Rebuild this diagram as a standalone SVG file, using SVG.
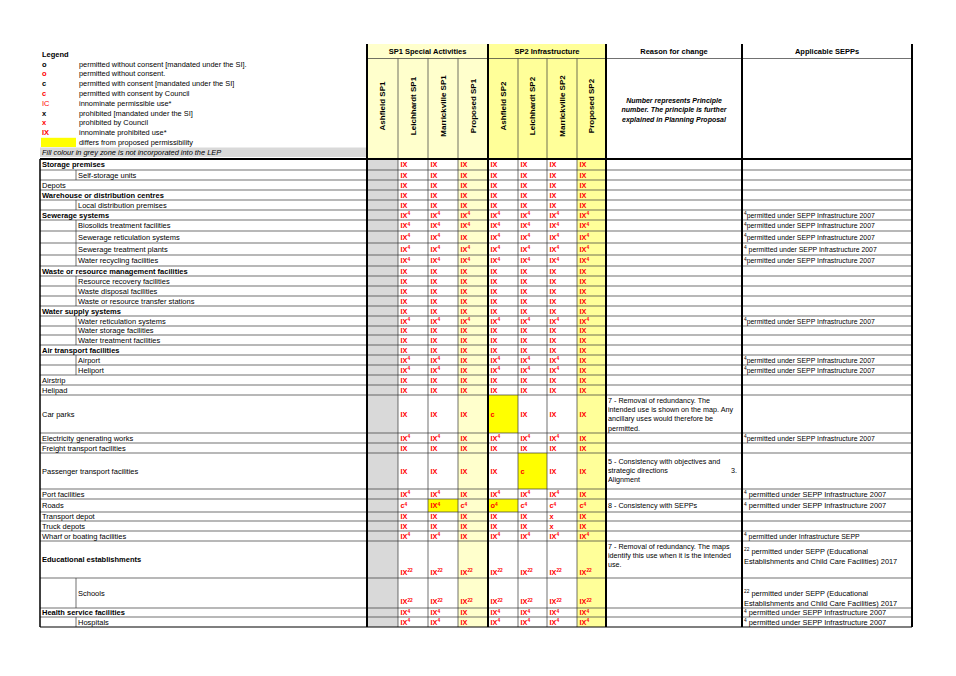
<svg xmlns="http://www.w3.org/2000/svg" width="956" height="676" viewBox="0 0 956 676">
<style>
text{font-family:"Liberation Sans",Arial,sans-serif;font-size:7.5px;fill:#000}
.b{font-weight:bold}
.hd{font-weight:bold;font-size:7.5px}
.rot{font-weight:bold;font-size:8px}
.bi{font-weight:bold;font-style:italic;font-size:7px}
.it{font-style:italic}
.lg{font-size:7.4px}
.rs{font-size:7.2px}
.d{font-size:7.3px;fill:#f00;font-weight:bold}
.u{font-size:4.8px}
.cal{font-size:6.9px}
.ar{font-size:7.4px}
.sym{font-weight:bold;font-size:7.5px}
.red{fill:#f00}
.thin{stroke:#333;stroke-width:0.7}
.thk{stroke:#000;stroke-width:2}
</style>
<rect x="0" y="0" width="956" height="676" fill="#fff"/>

<g id="fills">
<rect x="367" y="44" width="121" height="115" fill="#ffffcc"/>
<rect x="488" y="44" width="118" height="115" fill="#ffff99"/>
<rect x="367" y="159" width="31" height="468" fill="#d9d9d9"/>
<rect x="458" y="159" width="30" height="468" fill="#ffffcc"/>
<rect x="577" y="159" width="29" height="468" fill="#ffff99"/>
<rect x="488" y="395" width="30" height="38" fill="#ffff00"/>
<rect x="518" y="453" width="29" height="36" fill="#ffff00"/>
<rect x="428" y="499" width="30" height="13" fill="#ffff00"/>
<rect x="488" y="499" width="30" height="13" fill="#ffff00"/>
<rect x="40" y="147.5" width="327" height="9.5" fill="#d9d9d9"/>
<rect x="41" y="137.8" width="35" height="9.2" fill="#ffff00"/>
</g>

<g id="connectors">
<g class="thin">
<line x1="40" y1="170" x2="912" y2="170"/><line x1="40" y1="180" x2="912" y2="180"/><line x1="40" y1="190" x2="912" y2="190"/><line x1="40" y1="200" x2="912" y2="200"/><line x1="40" y1="210" x2="912" y2="210"/><line x1="40" y1="220" x2="912" y2="220"/><line x1="40" y1="231" x2="912" y2="231"/><line x1="40" y1="243" x2="912" y2="243"/><line x1="40" y1="255" x2="912" y2="255"/><line x1="40" y1="266" x2="912" y2="266"/><line x1="40" y1="276" x2="912" y2="276"/><line x1="40" y1="286" x2="912" y2="286"/><line x1="40" y1="296" x2="912" y2="296"/><line x1="40" y1="306" x2="912" y2="306"/><line x1="40" y1="316" x2="912" y2="316"/><line x1="40" y1="326" x2="912" y2="326"/><line x1="40" y1="335" x2="912" y2="335"/><line x1="40" y1="345" x2="912" y2="345"/><line x1="40" y1="355" x2="912" y2="355"/><line x1="40" y1="365" x2="912" y2="365"/><line x1="40" y1="375" x2="912" y2="375"/><line x1="40" y1="385" x2="912" y2="385"/><line x1="40" y1="395" x2="912" y2="395"/><line x1="40" y1="433" x2="912" y2="433"/><line x1="40" y1="443" x2="912" y2="443"/><line x1="40" y1="453" x2="912" y2="453"/><line x1="40" y1="489" x2="912" y2="489"/><line x1="40" y1="499" x2="912" y2="499"/><line x1="40" y1="512" x2="912" y2="512"/><line x1="40" y1="521" x2="912" y2="521"/><line x1="40" y1="531" x2="912" y2="531"/><line x1="40" y1="541" x2="912" y2="541"/><line x1="40" y1="578" x2="912" y2="578"/><line x1="40" y1="608" x2="912" y2="608"/><line x1="40" y1="617" x2="912" y2="617"/>
<line x1="367" y1="58.5" x2="912" y2="58.5"/>
<line x1="398" y1="58.5" x2="398" y2="627"/><line x1="428" y1="58.5" x2="428" y2="627"/><line x1="458" y1="58.5" x2="458" y2="627"/><line x1="518" y1="58.5" x2="518" y2="627"/><line x1="547" y1="58.5" x2="547" y2="627"/><line x1="577" y1="58.5" x2="577" y2="627"/>
<line x1="76" y1="170" x2="76" y2="180"/><line x1="76" y1="200" x2="76" y2="210"/><line x1="76" y1="220" x2="76" y2="266"/><line x1="76" y1="276" x2="76" y2="306"/><line x1="76" y1="316" x2="76" y2="345"/><line x1="76" y1="355" x2="76" y2="375"/><line x1="76" y1="578" x2="76" y2="608"/><line x1="76" y1="617" x2="76" y2="627"/>
</g>
<line x1="40" y1="627" x2="912" y2="627" stroke="#000" stroke-width="1.2"/>
<line x1="40" y1="159" x2="912" y2="159" class="thk"/>
<line x1="40" y1="159" x2="40" y2="627" stroke="#000" stroke-width="1.5"/>
<line x1="367" y1="44" x2="367" y2="627" class="thk"/>
<line x1="488" y1="44" x2="488" y2="627" class="thk"/>
<line x1="606" y1="44" x2="606" y2="627" class="thk"/>
<line x1="742" y1="44" x2="742" y2="627" class="thk"/>
<line x1="912" y1="44" x2="912" y2="627" class="thk"/>
</g>

<g id="legend">
<text x="42" y="56.6" class="hd">Legend</text>
<text x="42" y="66.6" class="sym">o</text><text x="79" y="66.6" class="lg">permitted without consent [mandated under the SI].</text>
<text x="42" y="76.4" class="sym red">o</text><text x="79" y="76.4" class="lg">permitted without consent.</text>
<text x="42" y="86.2" class="sym">c</text><text x="79" y="86.2" class="lg">permitted with consent [mandated under the SI]</text>
<text x="42" y="96" class="sym red">c</text><text x="79" y="96" class="lg">permitted with consent by Council</text>
<text x="42" y="105.8" class="sym red" style="font-weight:normal">IC</text><text x="79" y="105.8" class="lg">innominate permissible use*</text>
<text x="42" y="115.6" class="sym">x</text><text x="79" y="115.6" class="lg">prohibited [mandated under the SI]</text>
<text x="42" y="125.4" class="sym red">x</text><text x="79" y="125.4" class="lg">prohibited by Council</text>
<text x="42" y="135.2" class="sym red">IX</text><text x="79" y="135.2" class="lg">innominate prohibited use*</text>
<text x="79" y="145" class="lg">differs from proposed permissibility</text>
<text x="42" y="154.8" class="it lg">Fill colour in grey  zone is not incorporated into the LEP</text>
</g>

<g id="header">
<text x="427.5" y="53.7" class="hd" text-anchor="middle">SP1 Special Activities</text>
<text x="547" y="53.7" class="hd" text-anchor="middle">SP2 Infrastructure</text>
<text x="674" y="53.7" class="hd" text-anchor="middle">Reason for change</text>
<text x="827" y="53.7" class="hd" text-anchor="middle">Applicable SEPPs</text>
<text class="rot" text-anchor="middle" transform="translate(385.4,106) rotate(-90)">Ashfield SP1</text>
<text class="rot" text-anchor="middle" transform="translate(415.9,106) rotate(-90)">Leichhardt SP1</text>
<text class="rot" text-anchor="middle" transform="translate(445.9,106) rotate(-90)">Marrickville SP1</text>
<text class="rot" text-anchor="middle" transform="translate(475.9,106) rotate(-90)">Proposed SP1</text>
<text class="rot" text-anchor="middle" transform="translate(505.9,106) rotate(-90)">Ashfield SP2</text>
<text class="rot" text-anchor="middle" transform="translate(535.4,106) rotate(-90)">Leichhardt SP2</text>
<text class="rot" text-anchor="middle" transform="translate(564.9,106) rotate(-90)">Marrickville SP2</text>
<text class="rot" text-anchor="middle" transform="translate(594.4,106) rotate(-90)">Proposed SP2</text>
<text class="bi" x="674" y="102.5" text-anchor="middle">Number represents Principle</text>
<text class="bi" x="674" y="112" text-anchor="middle">number. The principle is further</text>
<text class="bi" x="674" y="121.5" text-anchor="middle">explained in Planning Proposal</text>
</g>

<g id="r01"><text x="42" y="167.1" class="b">Storage premises</text>
<text class="d" y="167.4"><tspan x="400.5">IX</tspan><tspan x="430.5">IX</tspan><tspan x="460.5">IX</tspan><tspan x="490.5">IX</tspan><tspan x="520.5">IX</tspan><tspan x="549.5">IX</tspan><tspan x="579.5">IX</tspan></text></g>
<g id="r02"><text x="78" y="177.6">Self-storage units</text>
<text class="d" y="177.9"><tspan x="400.5">IX</tspan><tspan x="430.5">IX</tspan><tspan x="460.5">IX</tspan><tspan x="490.5">IX</tspan><tspan x="520.5">IX</tspan><tspan x="549.5">IX</tspan><tspan x="579.5">IX</tspan></text></g>
<g id="r03"><text x="42" y="187.6">Depots</text>
<text class="d" y="187.9"><tspan x="400.5">IX</tspan><tspan x="430.5">IX</tspan><tspan x="460.5">IX</tspan><tspan x="490.5">IX</tspan><tspan x="520.5">IX</tspan><tspan x="549.5">IX</tspan><tspan x="579.5">IX</tspan></text></g>
<g id="r04"><text x="42" y="197.6" class="b">Warehouse or distribution centres</text>
<text class="d" y="197.9"><tspan x="400.5">IX</tspan><tspan x="430.5">IX</tspan><tspan x="460.5">IX</tspan><tspan x="490.5">IX</tspan><tspan x="520.5">IX</tspan><tspan x="549.5">IX</tspan><tspan x="579.5">IX</tspan></text></g>
<g id="r05"><text x="78" y="207.6">Local distribution premises</text>
<text class="d" y="207.9"><tspan x="400.5">IX</tspan><tspan x="430.5">IX</tspan><tspan x="460.5">IX</tspan><tspan x="490.5">IX</tspan><tspan x="520.5">IX</tspan><tspan x="549.5">IX</tspan><tspan x="579.5">IX</tspan></text></g>
<g id="r06"><text x="42" y="217.6" class="b">Sewerage systems</text>
<text class="d" y="217.9"><tspan x="400.5">IX</tspan><tspan class="u" dy="-2.8">4</tspan><tspan x="430.5" dy="2.8">IX</tspan><tspan class="u" dy="-2.8">4</tspan><tspan x="460.5" dy="2.8">IX</tspan><tspan class="u" dy="-2.8">4</tspan><tspan x="490.5" dy="2.8">IX</tspan><tspan class="u" dy="-2.8">4</tspan><tspan x="520.5" dy="2.8">IX</tspan><tspan class="u" dy="-2.8">4</tspan><tspan x="549.5" dy="2.8">IX</tspan><tspan class="u" dy="-2.8">4</tspan><tspan x="579.5" dy="2.8">IX</tspan><tspan class="u" dy="-2.8">4</tspan></text>
<text class="cal" x="744" y="217.6"><tspan class="u" dy="-2.4">4</tspan><tspan dy="2.4">permitted under  SEPP Infrastructure 2007</tspan></text></g>
<g id="r07"><text x="78" y="228.1">Biosolids treatment facilities</text>
<text class="d" y="228.4"><tspan x="400.5">IX</tspan><tspan class="u" dy="-2.8">4</tspan><tspan x="430.5" dy="2.8">IX</tspan><tspan class="u" dy="-2.8">4</tspan><tspan x="460.5" dy="2.8">IX</tspan><tspan class="u" dy="-2.8">4</tspan><tspan x="490.5" dy="2.8">IX</tspan><tspan class="u" dy="-2.8">4</tspan><tspan x="520.5" dy="2.8">IX</tspan><tspan class="u" dy="-2.8">4</tspan><tspan x="549.5" dy="2.8">IX</tspan><tspan class="u" dy="-2.8">4</tspan><tspan x="579.5" dy="2.8">IX</tspan><tspan class="u" dy="-2.8">4</tspan></text>
<text class="cal" x="744" y="228.1"><tspan class="u" dy="-2.4">4</tspan><tspan dy="2.4">permitted under  SEPP Infrastructure 2007</tspan></text></g>
<g id="r08"><text x="78" y="239.6">Sewerage reticulation systems</text>
<text class="d" y="239.9"><tspan x="400.5">IX</tspan><tspan class="u" dy="-2.8">4</tspan><tspan x="430.5" dy="2.8">IX</tspan><tspan class="u" dy="-2.8">4</tspan><tspan x="460.5" dy="2.8">IX</tspan><tspan x="490.5">IX</tspan><tspan class="u" dy="-2.8">4</tspan><tspan x="520.5" dy="2.8">IX</tspan><tspan class="u" dy="-2.8">4</tspan><tspan x="549.5" dy="2.8">IX</tspan><tspan class="u" dy="-2.8">4</tspan><tspan x="579.5" dy="2.8">IX</tspan><tspan class="u" dy="-2.8">4</tspan></text>
<text class="cal" x="744" y="239.6"><tspan class="u" dy="-2.4">4</tspan><tspan dy="2.4">permitted under  SEPP Infrastructure 2007</tspan></text></g>
<g id="r09"><text x="78" y="251.6">Sewerage treatment plants</text>
<text class="d" y="251.9"><tspan x="400.5">IX</tspan><tspan class="u" dy="-2.8">4</tspan><tspan x="430.5" dy="2.8">IX</tspan><tspan class="u" dy="-2.8">4</tspan><tspan x="460.5" dy="2.8">IX</tspan><tspan class="u" dy="-2.8">4</tspan><tspan x="490.5" dy="2.8">IX</tspan><tspan class="u" dy="-2.8">4</tspan><tspan x="520.5" dy="2.8">IX</tspan><tspan class="u" dy="-2.8">4</tspan><tspan x="549.5" dy="2.8">IX</tspan><tspan class="u" dy="-2.8">4</tspan><tspan x="579.5" dy="2.8">IX</tspan><tspan class="u" dy="-2.8">4</tspan></text>
<text class="cal" x="744" y="251.6"><tspan class="u" dy="-2.4">4</tspan><tspan dy="2.4"> permitted under  SEPP Infrastructure 2007</tspan></text></g>
<g id="r10"><text x="78" y="263.1">Water recycling facilities</text>
<text class="d" y="263.4"><tspan x="400.5">IX</tspan><tspan class="u" dy="-2.8">4</tspan><tspan x="430.5" dy="2.8">IX</tspan><tspan class="u" dy="-2.8">4</tspan><tspan x="460.5" dy="2.8">IX</tspan><tspan class="u" dy="-2.8">4</tspan><tspan x="490.5" dy="2.8">IX</tspan><tspan class="u" dy="-2.8">4</tspan><tspan x="520.5" dy="2.8">IX</tspan><tspan class="u" dy="-2.8">4</tspan><tspan x="549.5" dy="2.8">IX</tspan><tspan class="u" dy="-2.8">4</tspan><tspan x="579.5" dy="2.8">IX</tspan><tspan class="u" dy="-2.8">4</tspan></text>
<text class="cal" x="744" y="263.1"><tspan class="u" dy="-2.4">4</tspan><tspan dy="2.4">permitted under  SEPP Infrastructure 2007</tspan></text></g>
<g id="r11"><text x="42" y="273.6" class="b">Waste or resource management facilities</text>
<text class="d" y="273.9"><tspan x="400.5">IX</tspan><tspan x="430.5">IX</tspan><tspan x="460.5">IX</tspan><tspan x="490.5">IX</tspan><tspan x="520.5">IX</tspan><tspan x="549.5">IX</tspan><tspan x="579.5">IX</tspan></text></g>
<g id="r12"><text x="78" y="283.6">Resource recovery facilities</text>
<text class="d" y="283.9"><tspan x="400.5">IX</tspan><tspan x="430.5">IX</tspan><tspan x="460.5">IX</tspan><tspan x="490.5">IX</tspan><tspan x="520.5">IX</tspan><tspan x="549.5">IX</tspan><tspan x="579.5">IX</tspan></text></g>
<g id="r13"><text x="78" y="293.6">Waste disposal facilities</text>
<text class="d" y="293.9"><tspan x="400.5">IX</tspan><tspan x="430.5">IX</tspan><tspan x="460.5">IX</tspan><tspan x="490.5">IX</tspan><tspan x="520.5">IX</tspan><tspan x="549.5">IX</tspan><tspan x="579.5">IX</tspan></text></g>
<g id="r14"><text x="78" y="303.6">Waste or resource transfer stations</text>
<text class="d" y="303.9"><tspan x="400.5">IX</tspan><tspan x="430.5">IX</tspan><tspan x="460.5">IX</tspan><tspan x="490.5">IX</tspan><tspan x="520.5">IX</tspan><tspan x="549.5">IX</tspan><tspan x="579.5">IX</tspan></text></g>
<g id="r15"><text x="42" y="313.6" class="b">Water supply systems</text>
<text class="d" y="313.9"><tspan x="400.5">IX</tspan><tspan x="430.5">IX</tspan><tspan x="460.5">IX</tspan><tspan x="490.5">IX</tspan><tspan x="520.5">IX</tspan><tspan x="549.5">IX</tspan><tspan x="579.5">IX</tspan></text></g>
<g id="r16"><text x="78" y="323.6">Water reticulation systems</text>
<text class="d" y="323.9"><tspan x="400.5">IX</tspan><tspan class="u" dy="-2.8">4</tspan><tspan x="430.5" dy="2.8">IX</tspan><tspan class="u" dy="-2.8">4</tspan><tspan x="460.5" dy="2.8">IX</tspan><tspan class="u" dy="-2.8">4</tspan><tspan x="490.5" dy="2.8">IX</tspan><tspan class="u" dy="-2.8">4</tspan><tspan x="520.5" dy="2.8">IX</tspan><tspan class="u" dy="-2.8">4</tspan><tspan x="549.5" dy="2.8">IX</tspan><tspan class="u" dy="-2.8">4</tspan><tspan x="579.5" dy="2.8">IX</tspan><tspan class="u" dy="-2.8">4</tspan></text>
<text class="cal" x="744" y="323.6"><tspan class="u" dy="-2.4">4</tspan><tspan dy="2.4">permitted under  SEPP Infrastructure 2007</tspan></text></g>
<g id="r17"><text x="78" y="333.1">Water storage facilities</text>
<text class="d" y="333.4"><tspan x="400.5">IX</tspan><tspan x="430.5">IX</tspan><tspan x="460.5">IX</tspan><tspan x="490.5">IX</tspan><tspan x="520.5">IX</tspan><tspan x="549.5">IX</tspan><tspan x="579.5">IX</tspan></text></g>
<g id="r18"><text x="78" y="342.6">Water treatment facilities</text>
<text class="d" y="342.9"><tspan x="400.5">IX</tspan><tspan x="430.5">IX</tspan><tspan x="460.5">IX</tspan><tspan x="490.5">IX</tspan><tspan x="520.5">IX</tspan><tspan x="549.5">IX</tspan><tspan x="579.5">IX</tspan></text></g>
<g id="r19"><text x="42" y="352.6" class="b">Air transport facilities</text>
<text class="d" y="352.9"><tspan x="400.5">IX</tspan><tspan x="430.5">IX</tspan><tspan x="460.5">IX</tspan><tspan x="490.5">IX</tspan><tspan x="520.5">IX</tspan><tspan x="549.5">IX</tspan><tspan x="579.5">IX</tspan></text></g>
<g id="r20"><text x="78" y="362.6">Airport</text>
<text class="d" y="362.9"><tspan x="400.5">IX</tspan><tspan class="u" dy="-2.8">4</tspan><tspan x="430.5" dy="2.8">IX</tspan><tspan class="u" dy="-2.8">4</tspan><tspan x="460.5" dy="2.8">IX</tspan><tspan x="490.5">IX</tspan><tspan class="u" dy="-2.8">4</tspan><tspan x="520.5" dy="2.8">IX</tspan><tspan class="u" dy="-2.8">4</tspan><tspan x="549.5" dy="2.8">IX</tspan><tspan class="u" dy="-2.8">4</tspan><tspan x="579.5" dy="2.8">IX</tspan></text>
<text class="cal" x="744" y="362.6"><tspan class="u" dy="-2.4">4</tspan><tspan dy="2.4">permitted under  SEPP Infrastructure 2007</tspan></text></g>
<g id="r21"><text x="78" y="372.6">Heliport</text>
<text class="d" y="372.9"><tspan x="400.5">IX</tspan><tspan class="u" dy="-2.8">4</tspan><tspan x="430.5" dy="2.8">IX</tspan><tspan class="u" dy="-2.8">4</tspan><tspan x="460.5" dy="2.8">IX</tspan><tspan x="490.5">IX</tspan><tspan class="u" dy="-2.8">4</tspan><tspan x="520.5" dy="2.8">IX</tspan><tspan class="u" dy="-2.8">4</tspan><tspan x="549.5" dy="2.8">IX</tspan><tspan class="u" dy="-2.8">4</tspan><tspan x="579.5" dy="2.8">IX</tspan></text>
<text class="cal" x="744" y="372.6"><tspan class="u" dy="-2.4">4</tspan><tspan dy="2.4">permitted under  SEPP Infrastructure 2007</tspan></text></g>
<g id="r22"><text x="42" y="382.6">Airstrip</text>
<text class="d" y="382.9"><tspan x="400.5">IX</tspan><tspan x="430.5">IX</tspan><tspan x="460.5">IX</tspan><tspan x="490.5">IX</tspan><tspan x="520.5">IX</tspan><tspan x="549.5">IX</tspan><tspan x="579.5">IX</tspan></text></g>
<g id="r23"><text x="42" y="392.6">Helipad</text>
<text class="d" y="392.9"><tspan x="400.5">IX</tspan><tspan x="430.5">IX</tspan><tspan x="460.5">IX</tspan><tspan x="490.5">IX</tspan><tspan x="520.5">IX</tspan><tspan x="549.5">IX</tspan><tspan x="579.5">IX</tspan></text></g>
<g id="r24"><text x="42" y="416.6">Car parks</text>
<text class="d" y="416.9"><tspan x="400.5">IX</tspan><tspan x="430.5">IX</tspan><tspan x="460.5">IX</tspan><tspan x="490.5">c</tspan><tspan x="520.5">IX</tspan><tspan x="549.5">IX</tspan><tspan x="579.5">IX</tspan></text>
<text class="rs" x="608" y="402.6">7 - Removal of redundancy. The</text>
<text class="rs" x="608" y="412">intended use is shown on the map. Any</text>
<text class="rs" x="608" y="421.4">ancillary uses would therefore be</text>
<text class="rs" x="608" y="430.8">permitted.</text></g>
<g id="r25"><text x="42" y="440.6">Electricity generating works</text>
<text class="d" y="440.9"><tspan x="400.5">IX</tspan><tspan class="u" dy="-2.8">4</tspan><tspan x="430.5" dy="2.8">IX</tspan><tspan class="u" dy="-2.8">4</tspan><tspan x="460.5" dy="2.8">IX</tspan><tspan x="490.5">IX</tspan><tspan class="u" dy="-2.8">4</tspan><tspan x="520.5" dy="2.8">IX</tspan><tspan class="u" dy="-2.8">4</tspan><tspan x="549.5" dy="2.8">IX</tspan><tspan class="u" dy="-2.8">4</tspan><tspan x="579.5" dy="2.8">IX</tspan></text>
<text class="cal" x="744" y="440.6"><tspan class="u" dy="-2.4">4</tspan><tspan dy="2.4">permitted under  SEPP Infrastructure 2007</tspan></text></g>
<g id="r26"><text x="42" y="450.6">Freight transport facilities</text>
<text class="d" y="450.9"><tspan x="400.5">IX</tspan><tspan x="430.5">IX</tspan><tspan x="460.5">IX</tspan><tspan x="490.5">IX</tspan><tspan x="520.5">IX</tspan><tspan x="549.5">IX</tspan><tspan x="579.5">IX</tspan></text></g>
<g id="r27"><text x="42" y="473.6">Passenger transport facilities</text>
<text class="d" y="473.9"><tspan x="400.5">IX</tspan><tspan x="430.5">IX</tspan><tspan x="460.5">IX</tspan><tspan x="490.5">IX</tspan><tspan x="520.5">c</tspan><tspan x="549.5">IX</tspan><tspan x="579.5">IX</tspan></text>
<text class="rs" x="608" y="463.6">5 - Consistency with objectives and</text>
<text class="rs" x="608" y="472.6">strategic directions</text><text class="rs" x="737" y="472.6" text-anchor="end">3.</text>
<text class="rs" x="608" y="481.6">Alignment</text></g>
<g id="r28"><text x="42" y="496.6">Port facilities</text>
<text class="d" y="496.9"><tspan x="400.5">IX</tspan><tspan class="u" dy="-2.8">4</tspan><tspan x="430.5" dy="2.8">IX</tspan><tspan class="u" dy="-2.8">4</tspan><tspan x="460.5" dy="2.8">IX</tspan><tspan x="490.5">IX</tspan><tspan class="u" dy="-2.8">4</tspan><tspan x="520.5" dy="2.8">IX</tspan><tspan class="u" dy="-2.8">4</tspan><tspan x="549.5" dy="2.8">IX</tspan><tspan class="u" dy="-2.8">4</tspan><tspan x="579.5" dy="2.8">IX</tspan></text>
<text class="ar" x="744" y="496.6"><tspan class="u" dy="-2.6">4</tspan><tspan dy="2.6"> permitted under SEPP Infrastructure 2007</tspan></text></g>
<g id="r29"><text x="42" y="508.1">Roads</text>
<text class="d" y="508.4"><tspan x="400.5">c</tspan><tspan class="u" dy="-2.8">4</tspan><tspan x="430.5" dy="2.8">IX</tspan><tspan class="u" dy="-2.8">4</tspan><tspan x="460.5" dy="2.8">c</tspan><tspan class="u" dy="-2.8">4</tspan><tspan x="490.5" dy="2.8">o</tspan><tspan class="u" dy="-2.8">4</tspan><tspan x="520.5" dy="2.8">c</tspan><tspan class="u" dy="-2.8">4</tspan><tspan x="549.5" dy="2.8">c</tspan><tspan class="u" dy="-2.8">4</tspan><tspan x="579.5" dy="2.8">c</tspan><tspan class="u" dy="-2.8">4</tspan></text>
<text class="rs" x="608" y="508.1">8 - Consistency with SEPPs</text>
<text class="ar" x="744" y="508.1"><tspan class="u" dy="-2.6">4</tspan><tspan dy="2.6"> permitted under SEPP Infrastructure 2007</tspan></text></g>
<g id="r30"><text x="42" y="519.1">Transport depot</text>
<text class="d" y="519.4"><tspan x="400.5">IX</tspan><tspan x="430.5">IX</tspan><tspan x="460.5">IX</tspan><tspan x="490.5">IX</tspan><tspan x="520.5">IX</tspan><tspan x="549.5">x</tspan><tspan x="579.5">IX</tspan></text></g>
<g id="r31"><text x="42" y="528.6">Truck depots</text>
<text class="d" y="528.9"><tspan x="400.5">IX</tspan><tspan x="430.5">IX</tspan><tspan x="460.5">IX</tspan><tspan x="490.5">IX</tspan><tspan x="520.5">IX</tspan><tspan x="549.5">x</tspan><tspan x="579.5">IX</tspan></text></g>
<g id="r32"><text x="42" y="538.6">Wharf or boating facilities</text>
<text class="d" y="538.9"><tspan x="400.5">IX</tspan><tspan class="u" dy="-2.8">4</tspan><tspan x="430.5" dy="2.8">IX</tspan><tspan class="u" dy="-2.8">4</tspan><tspan x="460.5" dy="2.8">IX</tspan><tspan x="490.5">IX</tspan><tspan class="u" dy="-2.8">4</tspan><tspan x="520.5" dy="2.8">IX</tspan><tspan class="u" dy="-2.8">4</tspan><tspan x="549.5" dy="2.8">IX</tspan><tspan class="u" dy="-2.8">4</tspan><tspan x="579.5" dy="2.8">IX</tspan><tspan class="u" dy="-2.8">4</tspan></text>
<text class="cal" x="744" y="538.6"><tspan class="u" dy="-2.4">4</tspan><tspan dy="2.4"> permitted under Infrastructure SEPP</tspan></text></g>
<g id="r33"><text x="42" y="562.1" class="b">Educational establishments</text>
<text class="d" y="574.5"><tspan x="400.5">IX</tspan><tspan class="u" dy="-2.8">22</tspan><tspan x="430.5" dy="2.8">IX</tspan><tspan class="u" dy="-2.8">22</tspan><tspan x="460.5" dy="2.8">IX</tspan><tspan class="u" dy="-2.8">22</tspan><tspan x="490.5" dy="2.8">IX</tspan><tspan class="u" dy="-2.8">22</tspan><tspan x="520.5" dy="2.8">IX</tspan><tspan class="u" dy="-2.8">22</tspan><tspan x="549.5" dy="2.8">IX</tspan><tspan class="u" dy="-2.8">22</tspan><tspan x="579.5" dy="2.8">IX</tspan><tspan class="u" dy="-2.8">22</tspan></text>
<text class="rs" x="608" y="548.6">7 - Removal of redundancy. The maps</text>
<text class="rs" x="608" y="557.9">identify this use when it is the intended</text>
<text class="rs" x="608" y="567.2">use.</text>
<text class="ar" x="744" y="553.6"><tspan class="u" dy="-2.6">22</tspan><tspan dy="2.6"> permitted under SEPP (Educational</tspan></text>
<text class="ar" x="744" y="564">Establishments and Child Care Facilities) 2017</text></g>
<g id="r34"><text x="78" y="595.6">Schools</text>
<text class="d" y="604.3"><tspan x="400.5">IX</tspan><tspan class="u" dy="-2.8">22</tspan><tspan x="430.5" dy="2.8">IX</tspan><tspan class="u" dy="-2.8">22</tspan><tspan x="460.5" dy="2.8">IX</tspan><tspan class="u" dy="-2.8">22</tspan><tspan x="490.5" dy="2.8">IX</tspan><tspan class="u" dy="-2.8">22</tspan><tspan x="520.5" dy="2.8">IX</tspan><tspan class="u" dy="-2.8">22</tspan><tspan x="549.5" dy="2.8">IX</tspan><tspan class="u" dy="-2.8">22</tspan><tspan x="579.5" dy="2.8">IX</tspan><tspan class="u" dy="-2.8">22</tspan></text>
<text class="ar" x="744" y="595.6"><tspan class="u" dy="-2.6">22</tspan><tspan dy="2.6"> permitted under SEPP (Educational</tspan></text>
<text class="ar" x="744" y="605.6">Establishments and Child Care Facilities) 2017</text></g>
<g id="r35"><text x="42" y="615.1" class="b">Health service facilities</text>
<text class="d" y="615.4"><tspan x="400.5">IX</tspan><tspan class="u" dy="-2.8">4</tspan><tspan x="430.5" dy="2.8">IX</tspan><tspan class="u" dy="-2.8">4</tspan><tspan x="460.5" dy="2.8">IX</tspan><tspan x="490.5">IX</tspan><tspan class="u" dy="-2.8">4</tspan><tspan x="520.5" dy="2.8">IX</tspan><tspan class="u" dy="-2.8">4</tspan><tspan x="549.5" dy="2.8">IX</tspan><tspan class="u" dy="-2.8">4</tspan><tspan x="579.5" dy="2.8">IX</tspan><tspan class="u" dy="-2.8">4</tspan></text>
<text class="ar" x="744" y="615.1"><tspan class="u" dy="-2.6">4</tspan><tspan dy="2.6"> permitted under SEPP Infrastructure 2007</tspan></text></g>
<g id="r36"><text x="78" y="624.6">Hospitals</text>
<text class="d" y="624.9"><tspan x="400.5">IX</tspan><tspan class="u" dy="-2.8">4</tspan><tspan x="430.5" dy="2.8">IX</tspan><tspan class="u" dy="-2.8">4</tspan><tspan x="460.5" dy="2.8">IX</tspan><tspan x="490.5">IX</tspan><tspan class="u" dy="-2.8">4</tspan><tspan x="520.5" dy="2.8">IX</tspan><tspan class="u" dy="-2.8">4</tspan><tspan x="549.5" dy="2.8">IX</tspan><tspan class="u" dy="-2.8">4</tspan><tspan x="579.5" dy="2.8">IX</tspan><tspan class="u" dy="-2.8">4</tspan></text>
<text class="ar" x="744" y="624.6"><tspan class="u" dy="-2.6">4</tspan><tspan dy="2.6"> permitted under SEPP Infrastructure 2007</tspan></text></g>
</svg>
